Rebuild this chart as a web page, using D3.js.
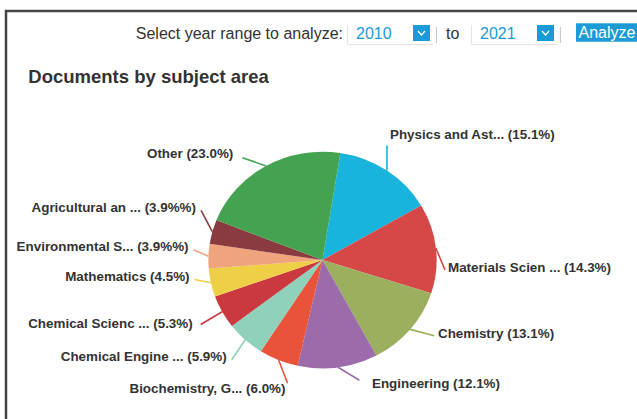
<!DOCTYPE html>
<html>
<head>
<meta charset="utf-8">
<script src="https://cdn.jsdelivr.net/npm/d3@7"></script>
<style>
  html, body { margin: 0; padding: 0; background: #fff; }
  svg { display: block; font-family: "Liberation Sans", Arial, Helvetica, sans-serif; }
</style>
</head>
<body>
<svg id="chart" width="637" height="419"></svg>
<script>
// Subject areas, in drawing order (clockwise from the top)
const categories = [
  "Physics and Ast...", "Materials Scien ...", "Chemistry", "Engineering",
  "Biochemistry, G...", "Chemical Engine ...", "Chemical Scienc ...", "Mathematics",
  "Environmental S...", "Agricultural an ...", "Other"
];
// Share of documents per subject area (%)
const shares = [15.1, 14.3, 13.1, 12.1, 6.0, 5.9, 5.3, 4.5, 3.9, 3.9, 23.0];
// Some labels carry a doubled percent sign
const pctSuffix = ["%", "%", "%", "%", "%", "%", "%", "%", "%%", "%%", "%"];
const colors = [
  "#18b4dc", "#d64848", "#9baf5f", "#9b6baa", "#e8533a", "#8fd1bb",
  "#c9393f", "#efcf45", "#f0a47e", "#8a3b40", "#43a351"
];
const yearFrom = "2010", yearTo = "2021";

// Label placement: [anchor x, centre y, side]
const labelSpots = {
  "Physics and Ast...":   [390, 134, "start"],
  "Materials Scien ...":  [448, 267, "start"],
  "Chemistry":            [438, 333, "start"],
  "Engineering":          [372, 383, "start"],
  "Biochemistry, G...":   [285.5, 388, "end"],
  "Chemical Engine ...":  [226.7, 356.7, "end"],
  "Chemical Scienc ...":  [192.7, 323.3, "end"],
  "Mathematics":          [189.5, 276.5, "end"],
  "Environmental S...":   [188.5, 246.7, "end"],
  "Agricultural an ...":  [196, 207.3, "end"],
  "Other":                [233.3, 153.3, "end"]
};

const svg = d3.select("#chart");
const ink = "#333";
const accent = "#1a9bd7";

// Panel frame
svg.append("path")
  .attr("d", "M6,425 L6,11 L645,11")
  .attr("fill", "none").attr("stroke", "#444").attr("stroke-width", 2.5);

// Year range controls
const bar = svg.append("g").attr("font-size", 16);
bar.append("text").attr("x", 343).attr("y", 39.3).attr("text-anchor", "end")
  .attr("fill", ink).text("Select year range to analyze:");

function yearSelect(x, year) {
  const g = bar.append("g").attr("transform", `translate(${x},0)`);
  g.append("path").attr("d", "M0.5,25 L0.5,44.5 L86,44.5")
    .attr("fill", "none").attr("stroke", "#e4e4e4");
  g.append("text").attr("x", 9).attr("y", 39).attr("fill", accent).text(year);
  g.append("rect").attr("x", 66).attr("y", 25).attr("width", 17).attr("height", 16).attr("fill", accent);
  g.append("path").attr("d", "M71,31 L74.5,35 L78,31")
    .attr("fill", "none").attr("stroke", "#fff").attr("stroke-width", 1.3);
  g.append("line").attr("x1", 89.5).attr("x2", 89.5).attr("y1", 27).attr("y2", 43)
    .attr("stroke", "#c8c8c8").attr("stroke-width", 1);
}
yearSelect(347, yearFrom);
bar.append("text").attr("x", 446).attr("y", 39.3).attr("fill", ink).text("to");
yearSelect(471, yearTo);
bar.append("rect").attr("x", 576).attr("y", 23.3).attr("width", 70).attr("height", 18.4).attr("fill", accent);
bar.append("text").attr("x", 578.5).attr("y", 37.7).attr("fill", "#fff").text("Analyze");

// Title
svg.append("text").attr("x", 28.3).attr("y", 83.3)
  .attr("font-size", 18.5).attr("font-weight", "bold").attr("fill", ink)
  .text("Documents by subject area");

// Pie
const cx = 322.5, cy = 260, radius = 108.3, stretchX = 1.054;
const startAngle = 9 * Math.PI / 180;
const pie = d3.pie().sort(null).value(d => d)
  .startAngle(startAngle).endAngle(startAngle + 2 * Math.PI);
const arcs = pie(shares);
const arc = d3.arc().innerRadius(0).outerRadius(radius);

svg.append("g")
  .attr("transform", `translate(${cx},${cy}) scale(${stretchX},1)`)
  .selectAll("path").data(arcs).join("path")
  .attr("d", arc)
  .attr("fill", (d, i) => colors[i]);

// Connectors (from the rim at each slice's mid-angle towards its label) and labels
const rimPoint = a => [cx + Math.sin(a) * radius * stretchX, cy - Math.cos(a) * radius];
const maxConnector = 25;
const labels = svg.append("g").attr("font-size", 13.4).attr("font-weight", "bold").attr("fill", ink);

arcs.forEach((d, i) => {
  const name = categories[i];
  const [lx, ly, side] = labelSpots[name];
  const mid = (d.startAngle + d.endAngle) / 2;
  const [sx, sy] = rimPoint(mid);
  let ex = side === "start" ? lx - 3 : lx + 5;
  let ey = ly + 3;
  const len = Math.hypot(ex - sx, ey - sy);
  if (len > maxConnector) {
    ex = sx + (ex - sx) * maxConnector / len;
    ey = sy + (ey - sy) * maxConnector / len;
  }
  svg.append("line")
    .attr("x1", sx).attr("y1", sy).attr("x2", ex).attr("y2", ey)
    .attr("stroke", colors[i]).attr("stroke-width", 1.6);
  labels.append("text")
    .attr("x", lx).attr("y", ly).attr("dy", "0.35em")
    .attr("text-anchor", side)
    .text(`${name} (${d.data.toFixed(1)}${pctSuffix[i]})`);
});
</script>
</body>
</html>
